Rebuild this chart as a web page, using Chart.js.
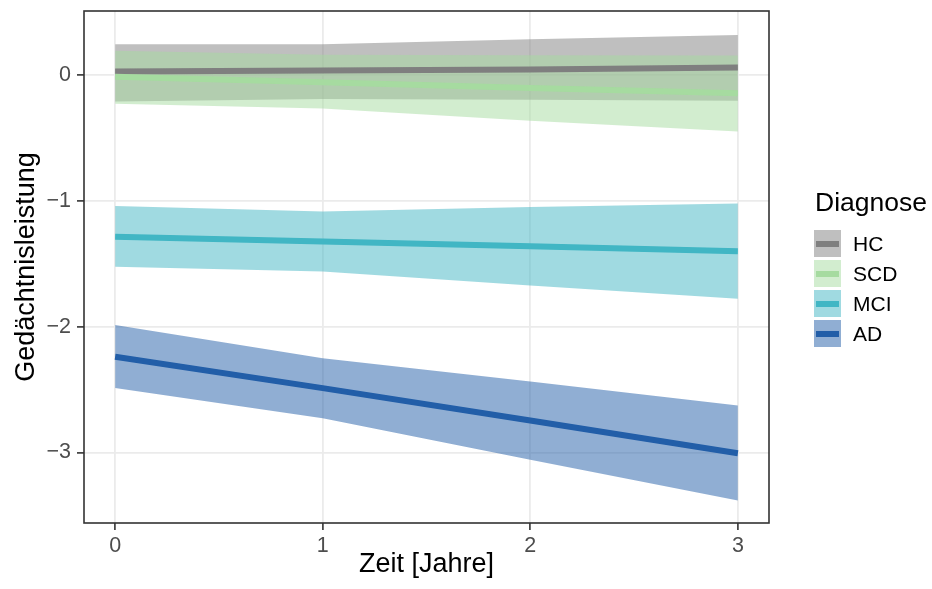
<!DOCTYPE html>
<html>
<head>
<meta charset="utf-8">
<script src="https://cdn.jsdelivr.net/npm/chart.js@4.4.1/dist/chart.umd.min.js"></script>
<style>
    html, body { margin: 0; padding: 0; background: #fff; }
    #wrap { position: relative; width: 932px; height: 589px; }
    #chart { position: absolute; left: 0; top: 0; }
    .lg { position: absolute; font-family: "Liberation Sans", Arial, sans-serif; color: #000; white-space: nowrap; }
    .key { position: absolute; width: 27px; height: 27px; }
    .key i { position: absolute; left: 2px; right: 2px; top: 10.5px; height: 6px; }
</style>
</head>
<body>
<div id="wrap">
    <canvas id="chart" width="932" height="589"></canvas>
    <div id="legend"></div>
</div>
<script>
// Zeitpunkte (Jahre)
const years = [0, 1, 2, 3];

const groups = ["HC", "SCD", "MCI", "AD"];
const lineColors = ["#7f7f7f", "#a6dba0", "#41b6c4", "#225ea8"];

// geschätzte Mittelwerte und Konfidenzbänder
const hcMean = [0.030, 0.037, 0.045, 0.060];
const hcLower = [-0.210, -0.190, -0.196, -0.204];
const hcUpper = [0.245, 0.246, 0.286, 0.320];

const scdMean = [-0.013, -0.056, -0.103, -0.143];
const scdLower = [-0.228, -0.265, -0.363, -0.448];
const scdUpper = [0.195, 0.163, 0.158, 0.157];

const mciMean = [-1.285, -1.322, -1.360, -1.399];
const mciLower = [-1.524, -1.561, -1.672, -1.778];
const mciUpper = [-1.041, -1.084, -1.049, -1.020];

const adMean = [-2.239, -2.488, -2.745, -3.005];
const adLower = [-2.486, -2.727, -3.058, -3.381];
const adUpper = [-1.987, -2.250, -2.435, -2.626];

const xTicks = [0, 0.5, 1, 1.5, 2, 2.5, 3];
const yTicks = [-3.5, -3, -2.5, -2, -1.5, -1, -0.5, 0, 0.5];

(() => {
    const FONT = '"Liberation Sans", Arial, sans-serif';
    const means = [hcMean, scdMean, mciMean, adMean];
    const lowers = [hcLower, scdLower, mciLower, adLower];
    const uppers = [hcUpper, scdUpper, mciUpper, adUpper];

    const pts = arr => years.map((x, i) => ({ x: x, y: arr[i] }));

    function withAlpha(hex, a) {
        const n = parseInt(hex.slice(1), 16);
        return `rgba(${(n >> 16) & 255}, ${(n >> 8) & 255}, ${n & 255}, ${a})`;
    }

    const datasets = [];
    groups.forEach((g, k) => {
        datasets.push({
            label: g + " oben",
            data: pts(uppers[k]),
            borderWidth: 0,
            pointRadius: 0,
            backgroundColor: withAlpha(lineColors[k], 0.5),
            fill: "+1",
            order: 20 - k * 2
        });
        datasets.push({
            label: g + " unten",
            data: pts(lowers[k]),
            borderWidth: 0,
            pointRadius: 0,
            fill: false,
            order: 19 - k * 2
        });
    });
    groups.forEach((g, k) => {
        datasets.push({
            label: g,
            data: pts(means[k]),
            borderColor: lineColors[k],
            borderWidth: 6,
            borderCapStyle: "butt",
            pointRadius: 0,
            fill: false,
            order: 5 - k
        });
    });

    const isMajor = v => Number.isInteger(v);

    const frame = {
        id: "frame",
        afterDraw(chart) {
            const { ctx, chartArea: a } = chart;
            ctx.save();
            ctx.strokeStyle = "#333333";
            ctx.lineWidth = 1.6;
            ctx.strokeRect(a.left, a.top, a.right - a.left, a.bottom - a.top);
            ctx.restore();
        }
    };

    const gridOpts = {
        color: "#ebebeb",
        lineWidth: c => (c.tick && isMajor(c.tick.value) ? 1.8 : 1.1),
        tickColor: c => (c.tick && isMajor(c.tick.value) ? "#333333" : "rgba(0,0,0,0)"),
        tickWidth: 1.6,
        tickLength: 7
    };

    new Chart(document.getElementById("chart"), {
        type: "line",
        data: { datasets: datasets },
        options: {
            responsive: false,
            animation: false,
            events: [],
            layout: { padding: { top: 11, right: 163, left: 0, bottom: 0 } },
            plugins: { legend: { display: false }, tooltip: { enabled: false } },
            scales: {
                x: {
                    type: "linear",
                    min: -0.15,
                    max: 3.15,
                    afterFit: s => { s.height = 66; s.paddingLeft = 0; s.paddingRight = 0; },
                    afterBuildTicks: s => { s.ticks = xTicks.map(v => ({ value: v })); },
                    grid: gridOpts,
                    border: { display: false },
                    ticks: {
                        color: "#4d4d4d",
                        padding: 3,
                        maxRotation: 0,
                        font: { family: FONT, size: 21.5 },
                        callback: v => (isMajor(v) ? String(v) : null)
                    },
                    title: {
                        display: true,
                        text: "Zeit [Jahre]",
                        color: "#000",
                        padding: { top: 0, bottom: 8 },
                        font: { family: FONT, size: 27 }
                    }
                },
                y: {
                    type: "linear",
                    min: -3.56,
                    max: 0.51,
                    afterFit: s => { s.width = 84; s.paddingTop = 0; s.paddingBottom = 0; },
                    afterBuildTicks: s => { s.ticks = yTicks.map(v => ({ value: v })); },
                    grid: gridOpts,
                    border: { display: false },
                    ticks: {
                        color: "#4d4d4d",
                        padding: 6,
                        font: { family: FONT, size: 21.5 },
                        callback: v => (isMajor(v) ? String(v).replace("-", "\u2212") : null)
                    },
                    title: {
                        display: true,
                        text: "Gedächtnisleistung",
                        color: "#000",
                        padding: { top: 10, bottom: 0 },
                        font: { family: FONT, size: 27 }
                    }
                }
            }
        },
        plugins: [frame]
    });

    // Legende
    const legend = document.getElementById("legend");
    const title = document.createElement("div");
    title.className = "lg";
    title.textContent = "Diagnose";
    title.style.cssText = "left:815px; top:186px; font-size:26.5px; line-height:32px;";
    legend.appendChild(title);

    groups.forEach((g, k) => {
        const rowTop = 229 + k * 30;
        const key = document.createElement("div");
        key.className = "key";
        key.style.left = "814px";
        key.style.top = (rowTop + 1) + "px";
        key.style.background = withAlpha(lineColors[k], 0.5);
        const bar = document.createElement("i");
        bar.style.background = lineColors[k];
        key.appendChild(bar);
        legend.appendChild(key);

        const lab = document.createElement("div");
        lab.className = "lg";
        lab.textContent = g;
        lab.style.cssText = `left:853px; top:${rowTop}px; font-size:21px; line-height:30px;`;
        legend.appendChild(lab);
    });
})();
</script>
</body>
</html>
